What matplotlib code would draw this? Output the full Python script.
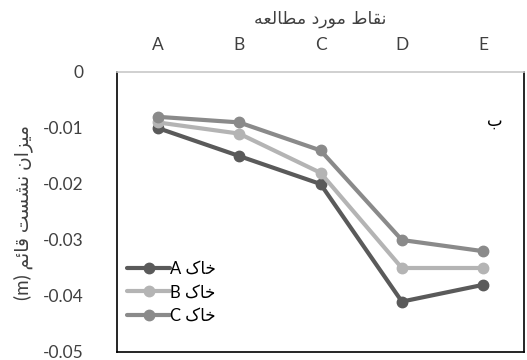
import matplotlib
matplotlib.use('Agg')
import matplotlib.pyplot as plt

plt.rcParams['font.family'] = ['Lato', 'DejaVu Sans']

points = ['A', 'B', 'C', 'D', 'E']
soil_a = [-0.010, -0.015, -0.020, -0.041, -0.038]
soil_b = [-0.009, -0.011, -0.018, -0.035, -0.035]
soil_c = [-0.008, -0.009, -0.014, -0.030, -0.032]

# Arabic text written in shaped presentation forms, visual (left-to-right) order
title_txt = '\uFEEA\uFECC\uFEDF\uFE8E\uFEC4\uFEE3 \uFEA9\uFEAD\uFEEE\uFEE3 \uFEC1\uFE8E\uFED8\uFEE7'
ylabel_txt = '(m) \uFEE2\uFE8B\uFE8E\uFED7 \uFE96\uFEB4\uFEB8\uFEE7 \uFEE5\uFE8D\uFEB0\uFEF4\uFEE3'
khak = '\u06A9\uFE8E\uFEA7'
labels = ['A ' + khak, 'B ' + khak, 'C ' + khak]
colors = ['#5a5a5a', '#b4b4b4', '#8a8a8a']

fig = plt.figure(figsize=(5.27, 3.6), dpi=100)
ax = fig.add_axes([117 / 527, 8 / 360, 407 / 527, 280 / 360])

x = range(len(points))
for vals, col, lab in zip([soil_a, soil_b, soil_c], colors, labels):
    ax.plot(x, vals, color=col, lw=3, marker='o', ms=7.5, label=lab,
            solid_capstyle='round')

ax.set_xlim(-0.5, 4.5)
ax.set_ylim(-0.05, 0)
ax.set_yticks([0, -0.01, -0.02, -0.03, -0.04, -0.05])
ax.set_yticklabels(['0', '-0.01', '-0.02', '-0.03', '-0.04', '-0.05'])
ax.set_xticks(list(x))
ax.set_xticklabels(points)
ax.xaxis.tick_top()
ax.xaxis.set_label_position('top')
ax.tick_params(axis='both', length=0, labelsize=12.5, colors='#404040')
ax.tick_params(axis='x', pad=14)
ax.tick_params(axis='y', pad=24)

for s in ['left', 'right', 'bottom']:
    ax.spines[s].set_color('black')
    ax.spines[s].set_linewidth(1.2)
ax.spines['top'].set_color('#c8c8c8')
ax.spines['top'].set_linewidth(1.2)

ax.set_xlabel(title_txt, fontsize=12.5, color='#404040', labelpad=9,
              family=['DejaVu Sans'])
ax.set_ylabel(ylabel_txt, fontsize=13.5, color='#404040', labelpad=7,
              family=['Lato', 'DejaVu Sans'])

ax.text(4.05, -0.0095, '\u0628', fontsize=12, color='black',
        family=['DejaVu Sans'])

ax.legend(loc='lower left', bbox_to_anchor=(0.0, 0.065), frameon=False,
          handlelength=2.6, labelspacing=0.45, borderaxespad=0.2,
          handletextpad=0.0, prop={'family': ['Lato', 'DejaVu Sans'], 'size': 12})

fig.savefig('out.png', dpi=100)
